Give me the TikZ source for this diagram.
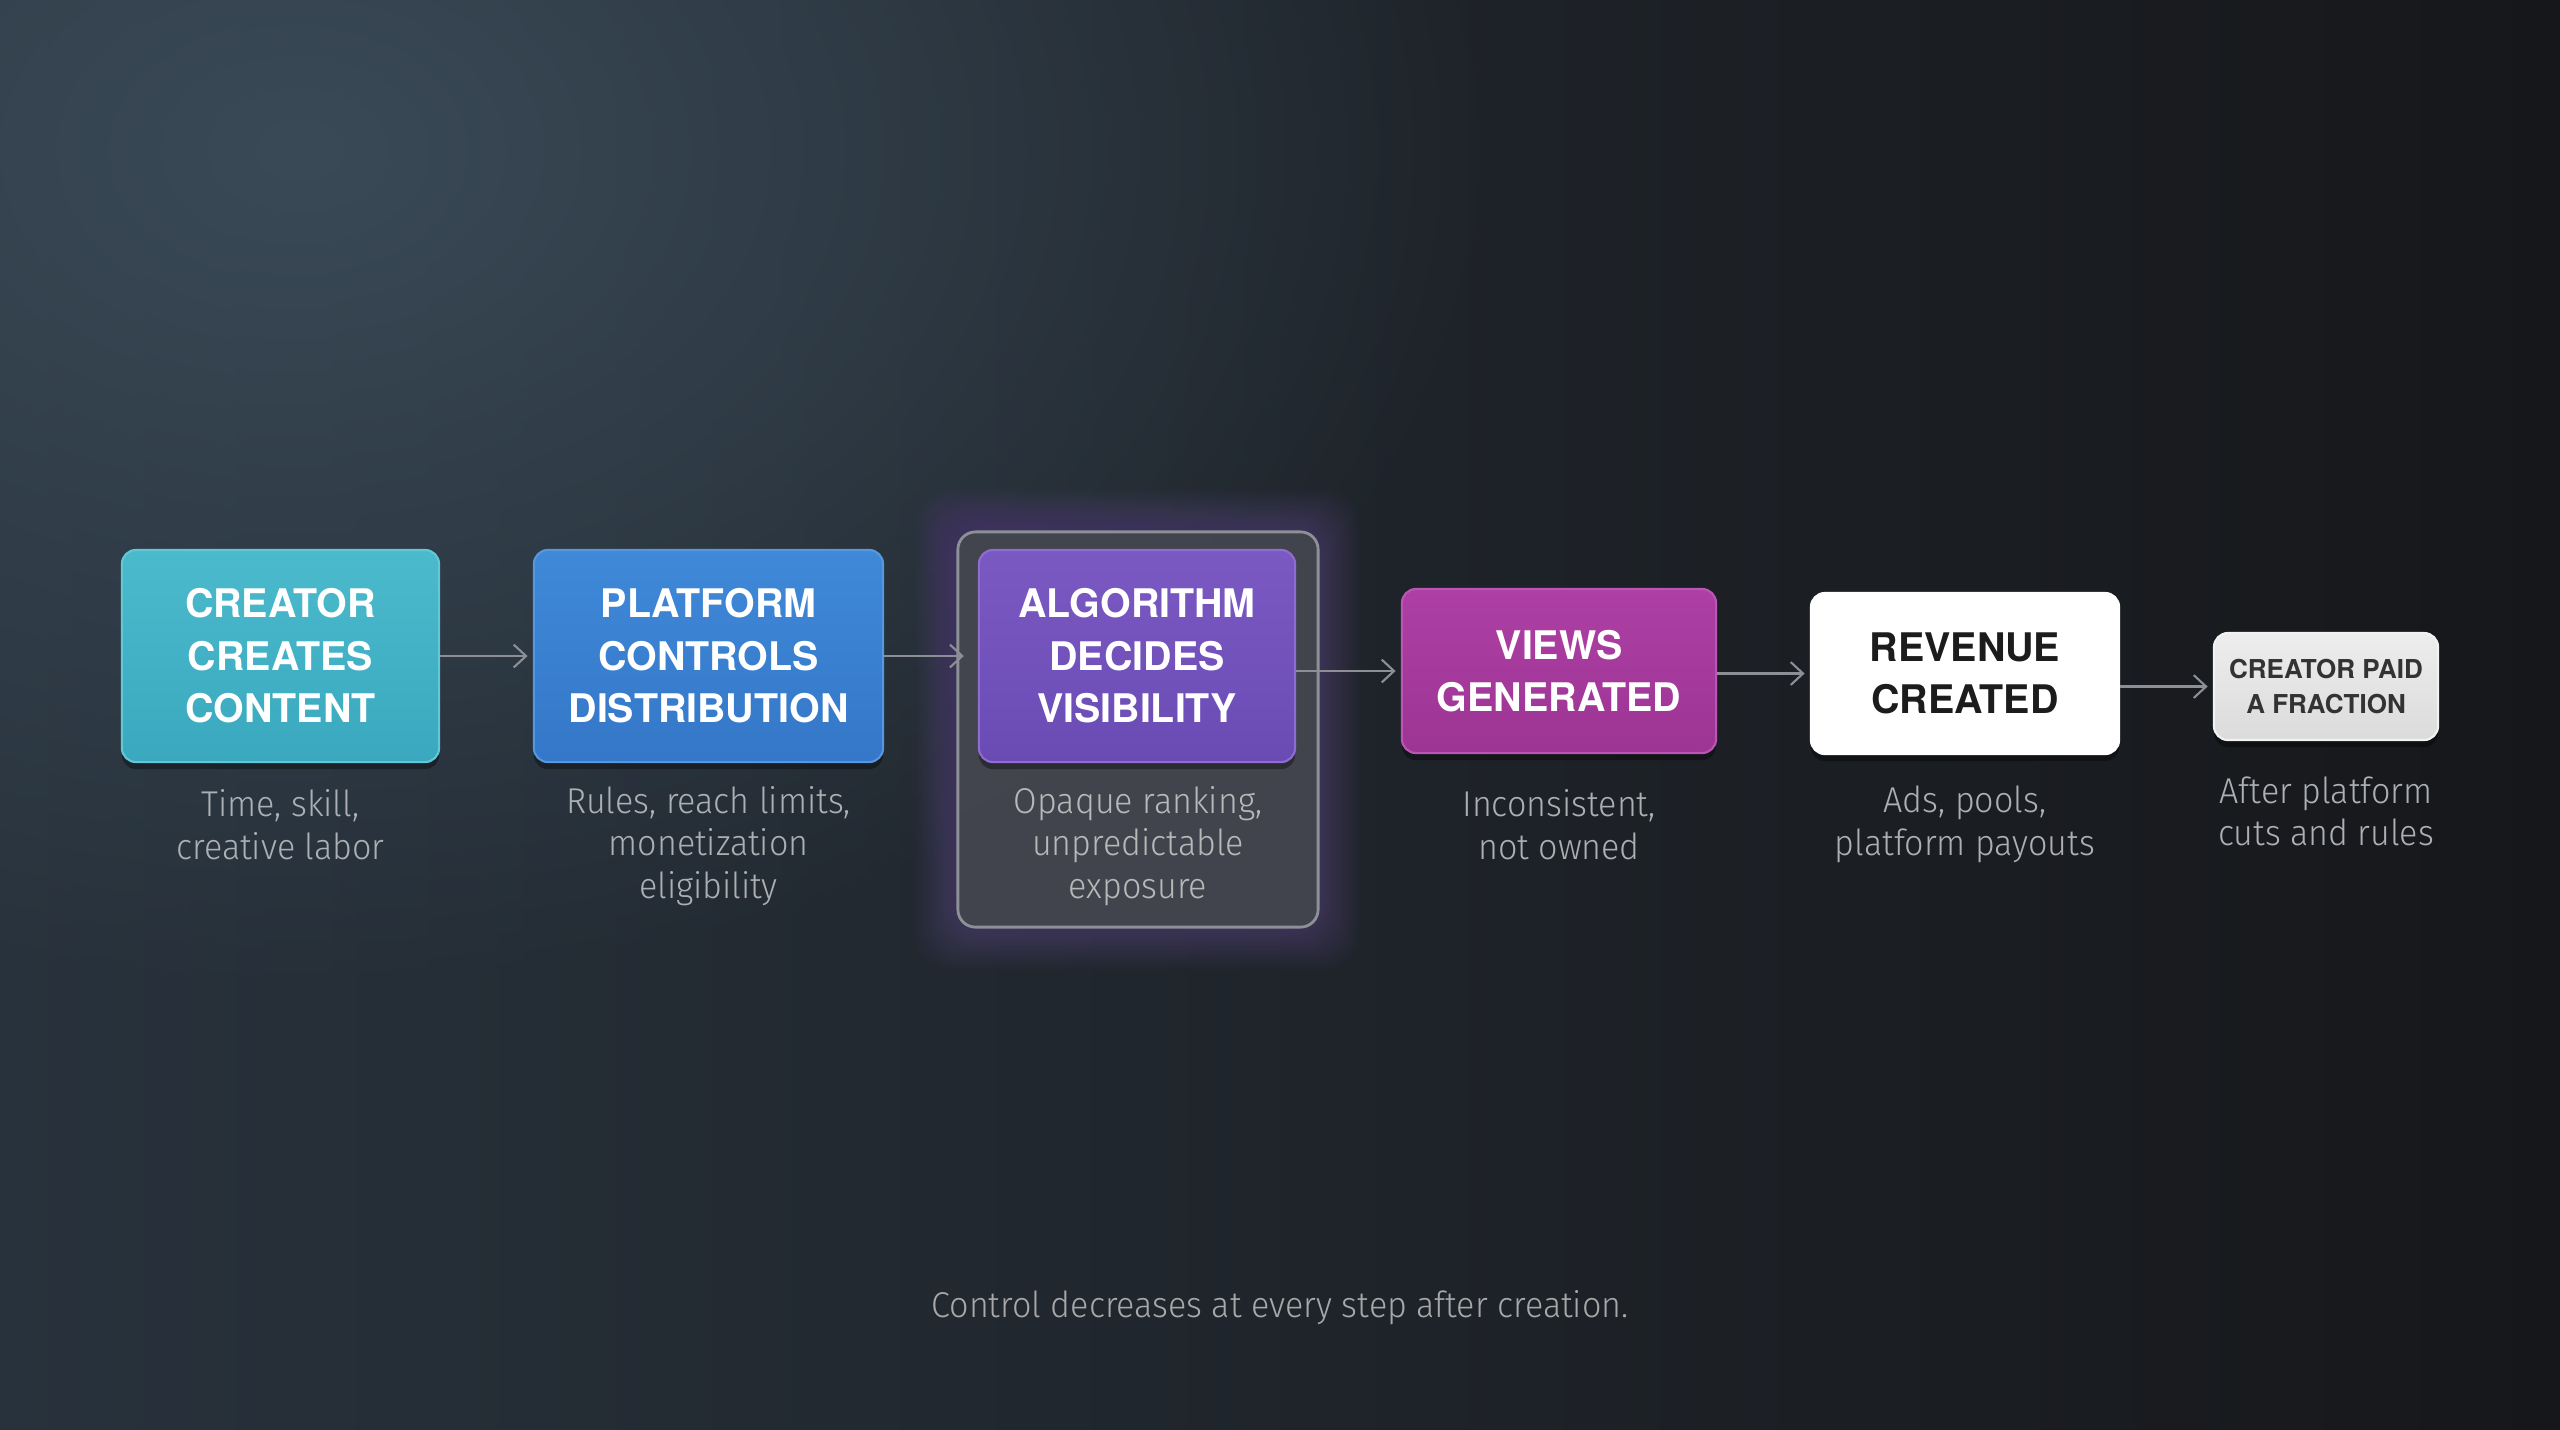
\documentclass[tikz,border=0pt]{standalone}
\usepackage{fontspec}
\setmainfont{TeX Gyre Heros}
\newfontfamily\lt{Fira Sans Light}[FakeStretch=0.95]
\usetikzlibrary{arrows.meta,fadings,shadows}
\definecolor{bgL}{HTML}{28323C}
\definecolor{bgR}{HTML}{16171A}
\definecolor{glowc}{HTML}{3A4A57}
\definecolor{arrc}{HTML}{8C9096}
\definecolor{subc}{HTML}{ACB0B5}
\definecolor{tealT}{HTML}{4BBACC}
\definecolor{tealB}{HTML}{3AA9BF}
\definecolor{tealD}{HTML}{62C8D8}
\definecolor{blueT}{HTML}{3F89D8}
\definecolor{blueB}{HTML}{3577C8}
\definecolor{blueD}{HTML}{5598E0}
\definecolor{purT}{HTML}{7B59C3}
\definecolor{purB}{HTML}{6A4BB4}
\definecolor{purD}{HTML}{8E6CD2}
\definecolor{magT}{HTML}{AE3FA4}
\definecolor{magB}{HTML}{9C3594}
\definecolor{magD}{HTML}{BD55B4}
\definecolor{panelc}{HTML}{43474D}
\definecolor{paneld}{HTML}{8D9096}
\definecolor{purglow}{HTML}{8A5CD0}
\definecolor{darktext}{HTML}{1C1C1C}
\tikzfading[name=softglow, inner color=transparent!0, outer color=transparent!100]
\tikzset{
  box/.style={rectangle, rounded corners=4pt, inner sep=0pt, align=center,
    text=white, font=\bfseries\fontsize{11.2}{14.9}\selectfont, line width=0.6pt,
    drop shadow={fill=black, opacity=0.35, shadow xshift=0pt, shadow yshift=-2pt}},
  sub/.style={align=center, text=subc, inner sep=0pt, font=\lt\fontsize{10.2}{12.1}\selectfont},
  arr/.style={draw=arrc, line width=0.6pt, -{Straight Barb[length=3.5pt,width=6.5pt]}, shorten >=1.5pt}
}
\begin{document}
\begin{tikzpicture}[x=0.01cm,y=-0.01cm]
\useasboundingbox (0,0) rectangle (2560,1429);
% background
\begin{scope}
\clip (0,0) rectangle (2560,1429);
\shade[left color=bgL, right color=bgR] (0,0) rectangle (2560,1429);
\path[fill=glowc, path fading=softglow] (-900,-700) rectangle (1500,1000);
\end{scope}

% glow behind panel
\foreach \i in {1,...,14}{
  \fill[purglow, opacity=0.022, rounded corners=10pt]
    ({958-3*\i},{532-3*\i}) rectangle ({1318+3*\i},{927+3*\i});
}
% panel
\node[rectangle, rounded corners=5pt, fill=panelc, fill opacity=0.9, draw=paneld, line width=0.8pt,
  minimum width=3.6cm, minimum height=3.95cm, inner sep=0pt] (panel) at (1138,729.5) {};

% boxes
\node[box, top color=tealT, bottom color=tealB, draw=tealD, minimum width=3.17cm, minimum height=2.12cm]
  (b1) at (280.5,656) {CREATOR\\CREATES\\CONTENT};
\node[box, top color=blueT, bottom color=blueB, draw=blueD, minimum width=3.49cm, minimum height=2.12cm]
  (b2) at (708.5,656) {PLATFORM\\CONTROLS\\DISTRIBUTION};
\node[box, top color=purT, bottom color=purB, draw=purD, minimum width=3.16cm, minimum height=2.12cm]
  (b3) at (1137,656) {ALGORITHM\\DECIDES\\VISIBILITY};
\node[box, top color=magT, bottom color=magB, draw=magD, minimum width=3.14cm, minimum height=1.64cm]
  (b4) at (1559,671) {VIEWS\\GENERATED};
\node[box, fill=white, draw=white, text=darktext, minimum width=3.08cm, minimum height=1.61cm]
  (b5) at (1965,673.5) {REVENUE\\CREATED};
\node[box, top color=white!93!black, bottom color=white!86!black, draw=white!95!black, text=darktext!90,
  font=\bfseries\fontsize{7.4}{10}\selectfont, minimum width=2.24cm, minimum height=1.07cm]
  (b6) at (2326,686.5) {CREATOR PAID\\A FRACTION};

% subtitles
\node[sub] (s1) at (280.5,824.5) {Time, skill,\\creative labor};
\node[sub] (s2) at (708.5,846) {Rules, reach limits,\\monetization\\eligibility};
\node[sub, text=white!72!black] (s3) at (1138,846) {Opaque ranking,\\unpredictable\\exposure};
\node[sub] (s4) at (1559,824.5) {Inconsistent,\\not owned};
\node[sub] (s5) at (1965,824.5) {Ads, pools,\\platform payouts};
\node[sub] (s6) at (2326,811.5) {After platform\\cuts and rules};

% arrows
\draw[arr] (b1) -- (b2);
\draw[arr, shorten >=4pt] (b2) -- (b3);
\draw[arr] (b4.west -| b3.east) -- (b4.west);
\draw[arr] (b5.west -| b4.east) -- (b5.west);
\draw[arr] (b6.west -| b5.east) -- (b6.west);

% caption
\node[sub, text=white!66!black] (cap) at (1280,1308) {Control decreases at every step after creation.};
\end{tikzpicture}
\end{document}
